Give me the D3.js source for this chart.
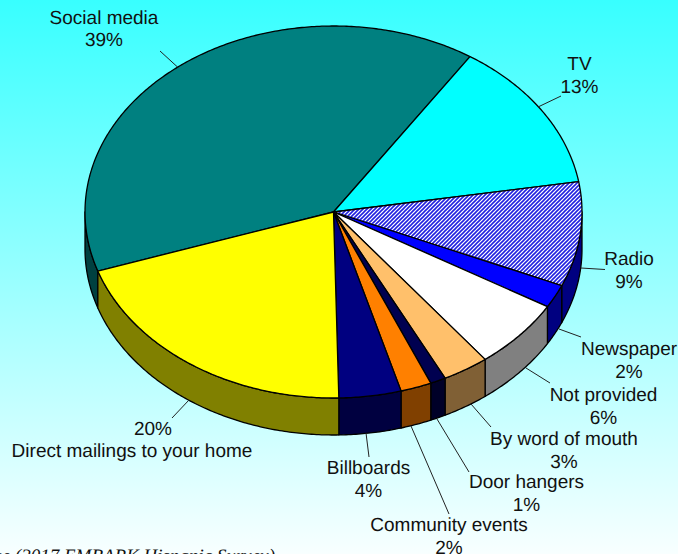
<!DOCTYPE html>
<html>
<head>
<meta charset="utf-8">
<script src="https://cdn.jsdelivr.net/npm/d3@7/dist/d3.min.js"></script>
<style>
  html, body { margin: 0; padding: 0; overflow: hidden; }
  svg { display: block; }
  text { font-family: "Liberation Sans", Arial, sans-serif; font-size: 19px; fill: #111; text-rendering: geometricPrecision; }
  .note { font-family: "Liberation Serif", "Times New Roman", serif; font-style: italic; font-size: 19px; }
</style>
</head>
<body>
<svg id="chart" width="678" height="554"></svg>
<script>
// Survey answers, clockwise from the Social media slice
const categories = ["Social media", "TV", "Radio", "Newspaper", "Not provided", "By word of mouth", "Door hangers", "Community events", "Billboards", "Direct mailings to your home"];
const shares = [39, 13, 9, 2, 6, 3, 1, 2, 4, 20];
const topColors = ["#008080", "#00ffff", "url(#radioHatch)", "#0000ff", "#ffffff", "#ffc06b", "#000050", "#ff8000", "#000080", "#ffff00"];
const sideColors = ["#004040", "#008080", "#000080", "#000080", "#808080", "#806035", "#000028", "#804000", "#000040", "#808000"];
const sourceNote = "Source (2017 EMBARK Hispanic Survey)";

// Label anchors and leader ends, in the same order as the categories.
// nameY / pctY are baselines; the last label puts the percentage first.
const labelLayout = [
  { x: 104, nameY: 23.5, pctY: 46, leader: [[177.5, 67], [160, 51]] },
  { x: 579.5, nameY: 70, pctY: 92.5, leader: [[538, 107], [561, 96]] },
  { x: 629, nameY: 265, pctY: 287.5, leader: [[581, 268], [605, 269.5]] },
  { x: 629, nameY: 355, pctY: 377.5, leader: [[559, 329], [581, 337]] },
  { x: 603.5, nameY: 401, pctY: 423.5, leader: [[526, 368], [550, 383]] },
  { x: 564, nameY: 445, pctY: 467.5, leader: [[471, 404], [491, 427]] },
  { x: 526.5, nameY: 488, pctY: 510.5, leader: [[437, 419], [469, 472]] },
  { x: 449, nameY: 531, pctY: 553.5, leader: [[411, 426], [449, 514]] },
  { x: 368.5, nameY: 474, pctY: 496.5, leader: [[366, 433], [369, 457]] },
  { x: 132, pctX: 153, nameY: 457, pctY: 435, leader: [[189, 400], [172, 418]] }
];

const width = 678, height = 554;
const cx = 333.5, cy = 212, rx = 248.5, ry = 186, depth = 37;
const startAngle = 251.5 * Math.PI / 180;

const svg = d3.select("#chart");
const defs = svg.append("defs");

const bg = defs.append("linearGradient").attr("id", "pageFade")
  .attr("x1", 0).attr("y1", 0).attr("x2", 0).attr("y2", 1);
bg.append("stop").attr("offset", 0).attr("stop-color", "#38ffff");
bg.append("stop").attr("offset", 1).attr("stop-color", "#f8ffff");

const hatch = defs.append("pattern").attr("id", "radioHatch")
  .attr("patternUnits", "userSpaceOnUse").attr("width", 4).attr("height", 4);
hatch.append("rect").attr("width", 4).attr("height", 4).attr("fill", "#ffffff");
hatch.append("path").attr("d", "M-1,1 L1,-1 M0,4 L4,0 M3,5 L5,3")
  .attr("stroke", "#2020e0").attr("stroke-width", 1.6);

svg.append("rect").attr("width", width).attr("height", height).attr("fill", "url(#pageFade)");

// Slice angles come from d3.pie; the ellipse is a circle squashed by the two scales
const pie = d3.pie().sort(null).value(d => d)
  .startAngle(startAngle).endAngle(startAngle + 2 * Math.PI);
const slices = pie(shares);

const xScale = d3.scaleLinear().domain([-1, 1]).range([cx - rx, cx + rx]);
const yScale = d3.scaleLinear().domain([-1, 1]).range([cy - ry, cy + ry]);
const line = d3.line().x(d => d[0]).y(d => d[1]);
const rim = (a, drop = 0) => [xScale(Math.sin(a)), yScale(-Math.cos(a)) + drop];
const arcPoints = (a0, a1, drop = 0) => {
  const n = Math.max(2, Math.ceil(Math.abs(a1 - a0) / 0.01));
  return d3.range(n + 1).map(i => rim(a0 + (a1 - a0) * i / n, drop));
};

// Side wall: only the part of the rim on the near half of the ellipse shows
const sides = svg.append("g");
const near0 = Math.PI / 2, near1 = 3 * Math.PI / 2;
slices.forEach((s, i) => {
  // normalise so the slice angles can be compared with the near half
  [0, -2 * Math.PI].forEach(shift => {
    const a0 = Math.max(s.startAngle + shift, near0);
    const a1 = Math.min(s.endAngle + shift, near1);
    if (a1 <= a0) return;
    const pts = arcPoints(a0, a1).concat(arcPoints(a1, a0, depth));
    sides.append("path")
      .attr("d", line(pts) + "Z")
      .attr("fill", sideColors[i])
      .attr("stroke", "#000").attr("stroke-width", 1.3).attr("stroke-linejoin", "round");
  });
});

// Top faces
const tops = svg.append("g");
slices.forEach((s, i) => {
  const pts = [[cx, cy]].concat(arcPoints(s.startAngle, s.endAngle));
  tops.append("path")
    .attr("d", line(pts) + "Z")
    .attr("fill", topColors[i])
    .attr("stroke", "#000").attr("stroke-width", 1.3).attr("stroke-linejoin", "round");
});

// Category and percentage labels with their leader lines
const labels = svg.append("g");
labelLayout.forEach((l, i) => {
  labels.append("path").attr("d", line(l.leader))
    .attr("fill", "none").attr("stroke", "#222").attr("stroke-width", 1);
  labels.append("text")
    .attr("x", l.x).attr("y", l.nameY)
    .attr("text-anchor", "middle")
    .text(categories[i]);
  labels.append("text")
    .attr("x", l.pctX ?? l.x).attr("y", l.pctY)
    .attr("text-anchor", "middle")
    .text(shares[i] + "%");
});

// Source line, running off the left and bottom edges of the page
svg.append("text").attr("class", "note")
  .attr("x", 275).attr("y", 562).attr("text-anchor", "end")
  .text(sourceNote);
</script>
</body>
</html>
